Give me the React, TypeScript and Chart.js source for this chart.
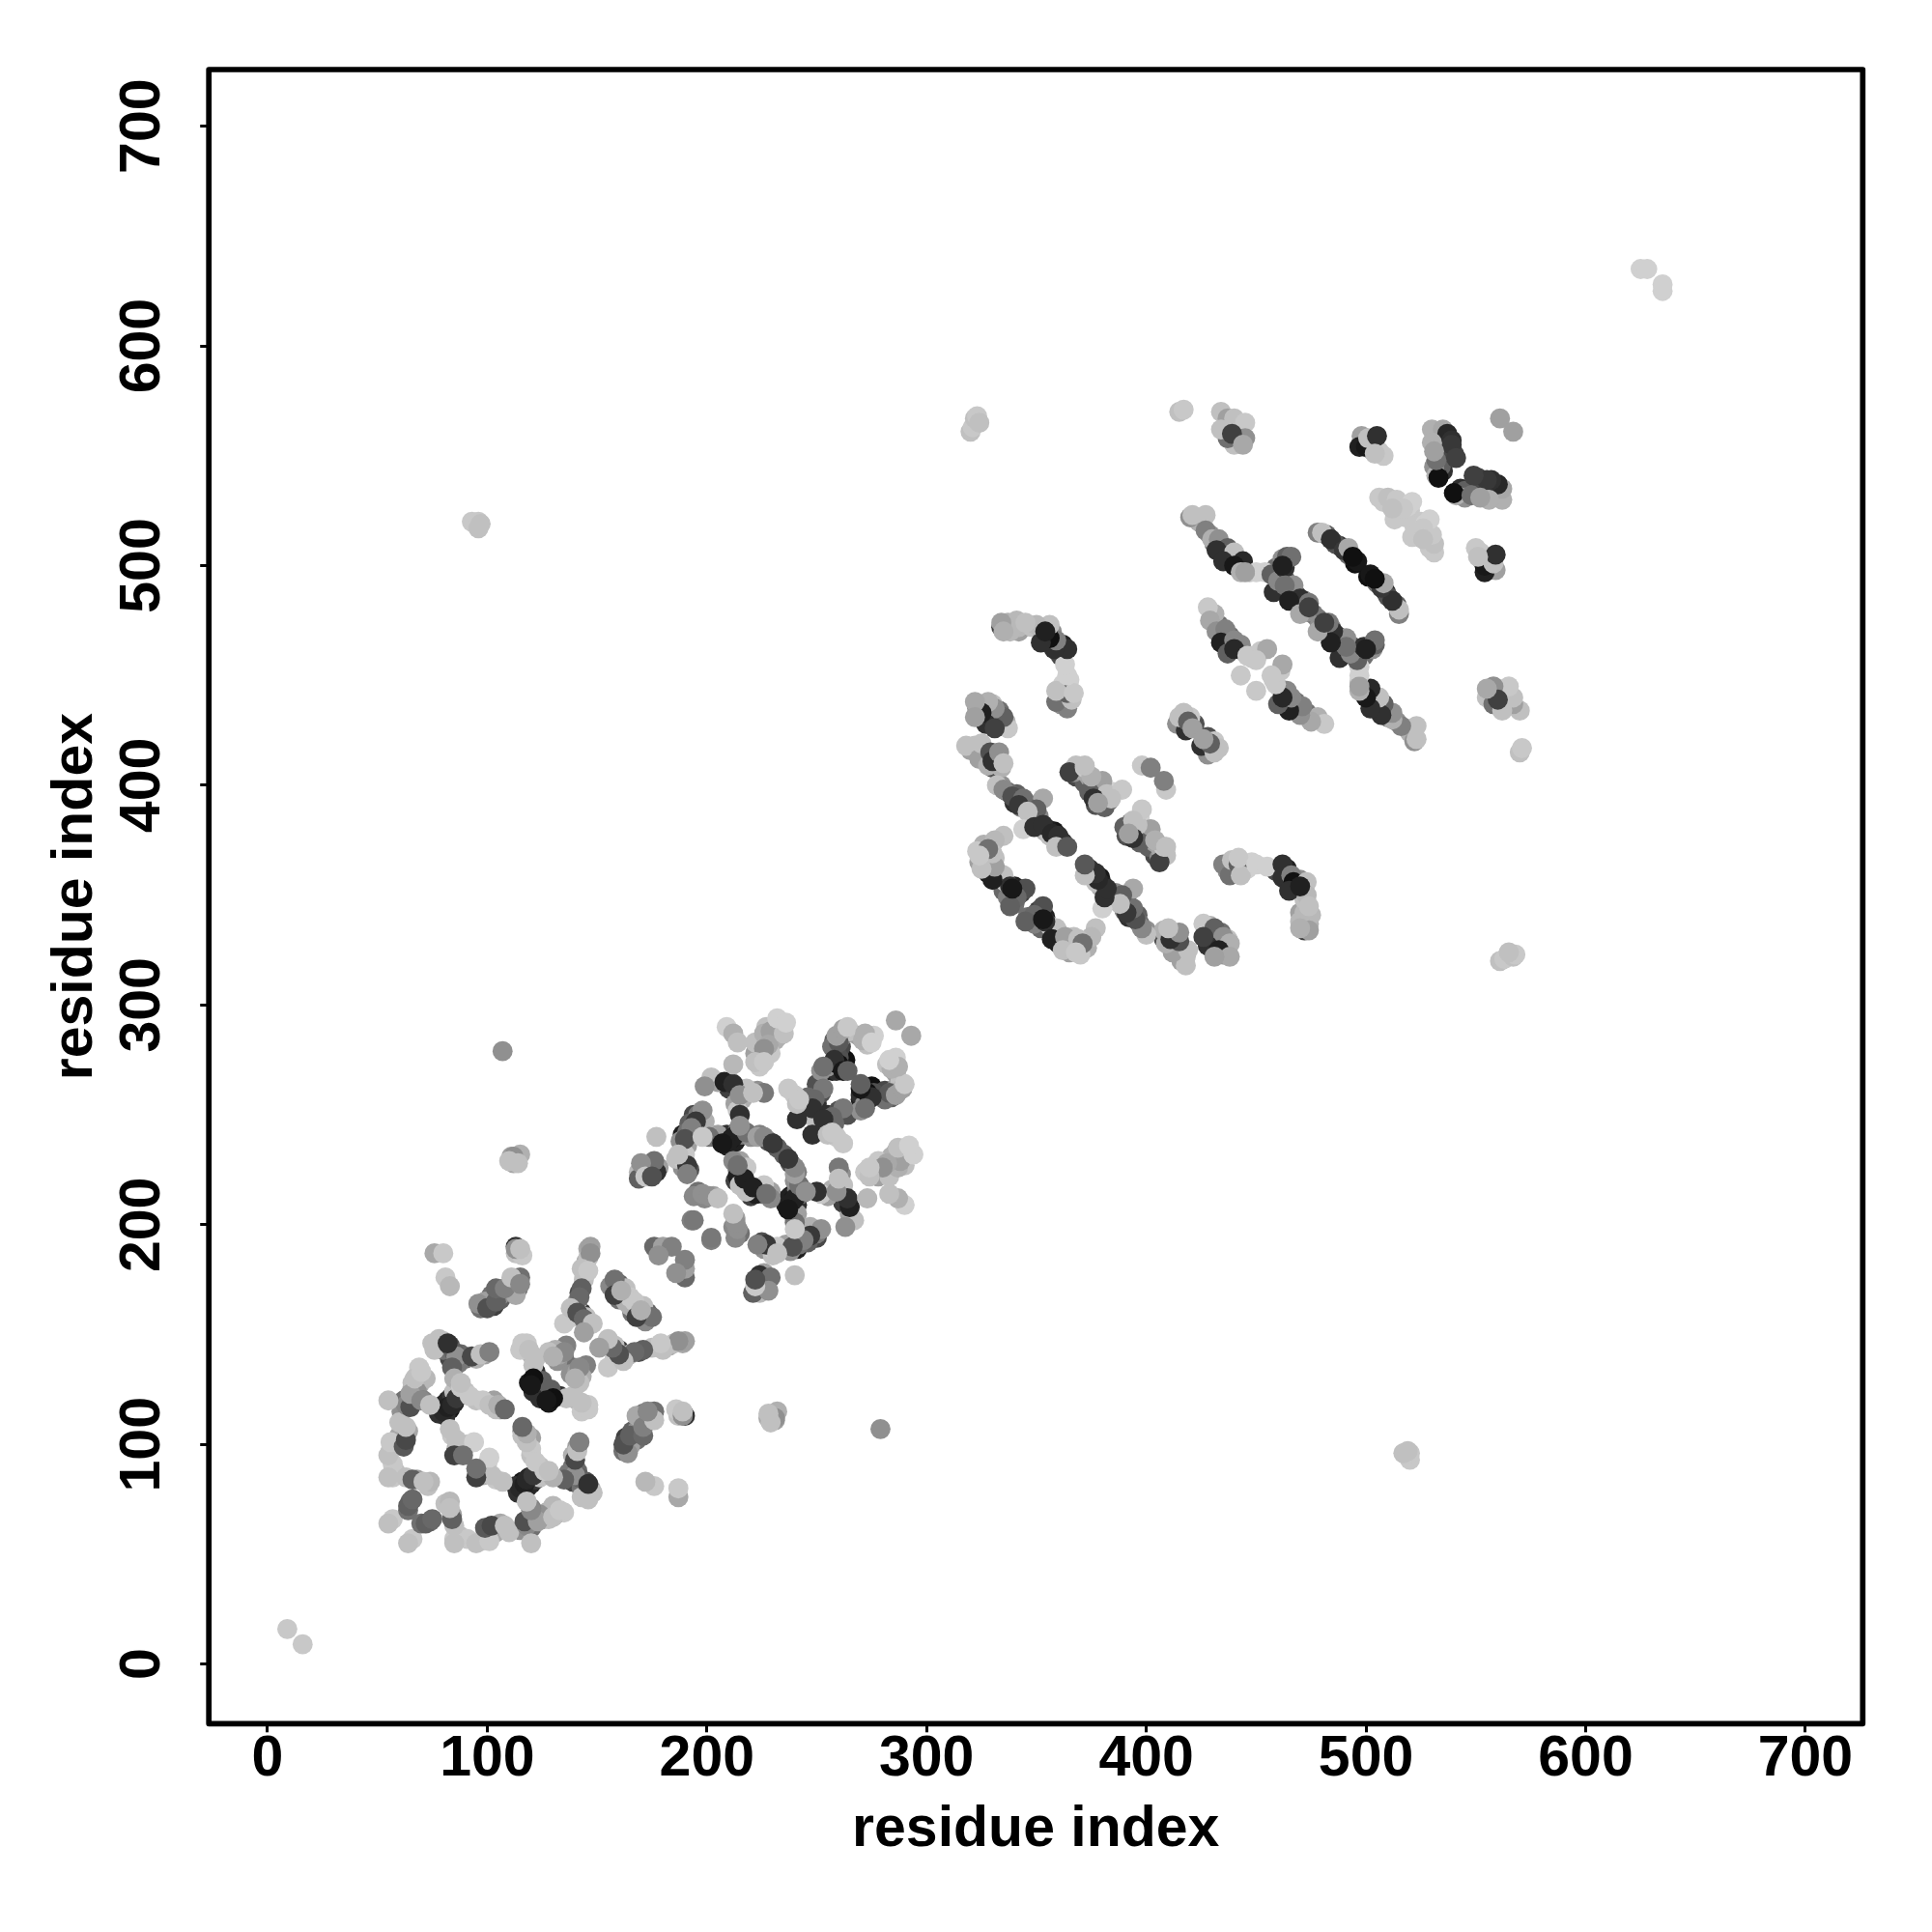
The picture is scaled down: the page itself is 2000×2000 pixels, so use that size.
import React, { useEffect, useRef } from "react";
import { Chart, registerables } from "chart.js";

Chart.register(...registerables);

// [residue i, residue j, grey level] – the map is symmetric, only j > i is listed
const domainOneContacts: number[][] = [
  [76,187,0xa8],[80,187,0xc8],[81,176,0xc8],[83,172,0xb8],[55,64,0xc0],[65,74,0x6e],[64,70,0x70],[64,72,0x60],[66,75,0x68],
  [55,85,0xc0],[55,95,0xc0],[56,101,0xc8],[62,99,0x58],[63,102,0x48],[63,108,0xc0],[63,118,0x88],[65,117,0x50],[55,120,0xc0],
  [68,124,0x90],[71,120,0x80],[65,123,0xa0],[67,130,0xc0],[70,133,0xc8],[75,146,0xc0],[78,148,0xc0],[83,145,0x50],[85,142,0x60],
  [86,140,0x90],[93,140,0x48],[97,141,0xc0],[101,142,0x80],[84,135,0x60],[85,130,0xb0],[78,114,0x30],[80,115,0x28],[82,117,0x20],
  [84,118,0x28],[86,121,0x38],[88,126,0xc8],[92,122,0xc8],[101,118,0xc0],[105,118,0xb0],[108,116,0x68],[83,107,0xc0],[86,102,0xc0],
  [94,101,0xd0],[85,95,0x40],[89,95,0x70],[63,85,0xc0],[66,84,0x60],[74,83,0xb8],[71,83,0xc0],[70,120,0x88],[74,118,0xc0],
  [88,128,0xc0],[82,146,0x30],[96,164,0x90],[100,162,0x50],[104,165,0x60],[104,171,0x68],[108,171,0x80],[115,176,0x70],[111,176,0xc0],
  [115,173,0x88],[113,190,0x30],[113,189,0x90],[115,189,0xc0],[147,190,0xa0],[147,187,0x90],[143,180,0xc0],[146,179,0xc8],[143,171,0x60],
  [142,167,0x68],[135,155,0xc8],[138,162,0xc0],[141,160,0x50],[144,157,0x68],[148,155,0xc0],[144,151,0xa0],[158,175,0x70],[158,168,0x40],
  [161,170,0xb0],[176,190,0x68],[180,190,0xa0],[184,190,0x80],[178,186,0x90],[116,146,0xc8],[119,143,0xc0],[122,139,0xc0],[121,130,0x10],
  [120,127,0x18],[135,142,0x88],[130,140,0xb0],[193,202,0x80],
];

const domainOneHidden: number[][] = [
  [60,104,0xa8],[61,101,0x70],[62,105,0x30],[60,110,0xc0],[64,106,0xa8],[61,115,0x90],[62,120,0x70],[66,120,0xa0],[67,122,0x30],
  [66,126,0xc0],[69,127,0xb0],[68,131,0x90],[66,128,0xc0],[69,135,0xc8],[72,130,0xb8],[76,143,0xc0],[80,147,0xb8],[80,143,0x70],
  [82,142,0x38],[84,140,0x30],[81,144,0x50],[83,139,0x48],[88,141,0x68],[90,139,0x70],[95,139,0xb0],[99,141,0xa0],[87,137,0x78],
  [81,113,0x30],[79,116,0x20],[83,116,0x18],[85,119,0x20],[82,120,0x28],[80,118,0x18],[84,122,0x38],[85,124,0xc0],[90,124,0xc0],
  [95,120,0xc0],[98,120,0xc8],[103,120,0xa0],[106,116,0x88],[104,116,0xc0],[84,104,0xc8],[88,100,0xc0],[87,97,0x60],[91,100,0xc8],
  [86,98,0xb0],[97,162,0x70],[99,165,0xa0],[101,164,0x40],[103,163,0x40],[106,168,0x90],[110,170,0x90],[112,174,0xc0],[114,171,0x70],
  [113,168,0xa8],[102,168,0x70],[106,166,0x60],[144,175,0xc0],[142,169,0x50],[145,183,0xb0],[146,185,0xc0],[141,165,0xb0],[139,158,0xc8],
  [143,160,0x38],[146,154,0xc8],[145,158,0xc0],[160,173,0x60],[163,171,0xc0],[156,172,0x88],[160,166,0x70],[165,167,0xc8],[163,165,0xb0],
  [115,143,0xc8],[118,146,0xc8],[120,141,0xb8],[121,136,0xc0],[122,133,0x30],[119,128,0x18],[122,128,0x10],[121,124,0x30],[125,129,0x60],
  [131,143,0xb0],[133,141,0xa0],[136,145,0x80],[132,138,0x90],[128,142,0xc0],[135,139,0x70],[57,66,0xc8],[57,85,0xc8],[58,88,0xc0],
  [56,97,0xc8],[57,91,0xc8],[68,84,0xa0],[73,81,0xc0],[146,189,0xa8],[113,187,0xc0],[116,186,0xc8],
];

const domainTwoContacts: number[][] = [
  [209,290,0xd0],[212,287,0xb0],[214,283,0xc0],[222,278,0xa0],[222,283,0xc0],[226,287,0xb0],[229,288,0xa0],[228,282,0xa8],[226,280,0x90],
  [222,274,0xc0],[226,274,0xc8],[235,287,0xc0],[232,294,0xd0],[236,292,0xd0],[260,283,0x58],[259,286,0xa0],[262,289,0xa0],[264,290,0xc8],
  [271,284,0xb0],[272,287,0xb0],[275,283,0xd0],[286,293,0xa8],[260,273,0x10],[258,275,0x30],[262,270,0x18],[264,270,0x60],[252,270,0x90],
  [253,272,0x70],[253,262,0x78],[249,257,0x68],[248,253,0x30],[241,248,0x30],[241,255,0xc0],[242,257,0xc8],[237,262,0xc8],[202,267,0xc0],
  [199,263,0x90],[208,265,0x20],[212,264,0x30],[215,259,0x90],[215,250,0x30],[226,260,0x78],[221,260,0xc0],[212,273,0xb8],[198,252,0x90],
  [195,247,0x38],[193,244,0x80],[190,239,0x50],[201,240,0x70],[198,240,0xc8],[177,240,0xc0],[211,239,0x18],[212,240,0x20],[209,236,0x20],
  [207,237,0x18],[218,242,0x70],[223,240,0xa0],[226,240,0x88],[230,237,0x38],[215,245,0x90],[189,230,0xc8],[191,227,0x38],[191,223,0x80],
  [187,232,0xc0],[177,224,0x30],[173,227,0x68],[169,224,0xb8],[169,221,0x60],[176,229,0x70],[170,228,0x90],[172,222,0xc8],[175,222,0x50],
  [212,229,0x88],[216,224,0xc8],[214,222,0x20],[215,218,0xc0],[217,221,0x20],[214,227,0x70],[194,213,0x88],[198,214,0x90],[201,213,0x90],
  [205,212,0xc0],[194,202,0x78],
];

const domainTwoHidden: number[][] = [
  [208,238,0x28],[210,237,0x10],[212,237,0x20],[209,241,0x30],[213,238,0x18],[214,243,0x68],[216,241,0x78],[220,240,0x90],[224,241,0x80],
  [228,238,0x50],[232,235,0x60],[196,250,0x78],[194,250,0x48],[192,246,0x60],[191,242,0x70],[188,238,0x90],[189,241,0x20],[191,236,0xa0],
  [203,240,0x90],[205,241,0xa0],[197,245,0x70],[199,247,0xb0],[205,265,0xa0],[210,262,0x40],[214,262,0x50],[216,257,0xb0],[213,255,0xa0],
  [214,252,0xc8],[218,262,0xc0],[223,261,0x90],[255,272,0x90],[257,270,0x20],[259,270,0x30],[261,272,0x18],[263,275,0x10],[260,276,0x50],
  [250,264,0x50],[252,260,0x50],[247,255,0x40],[250,255,0x30],[244,250,0xc0],[246,258,0x68],[240,259,0xc8],[224,278,0x70],[227,284,0xa0],
  [231,289,0xc0],[231,284,0xb0],[233,286,0xa0],[225,283,0xa8],[224,272,0xc8],[229,278,0xc8],[233,291,0xc8],[227,290,0xc0],[258,284,0x60],
  [261,281,0x48],[262,286,0x90],[257,281,0x70],[265,288,0xc0],[273,282,0xc0],[276,286,0xd0],[269,286,0xa0],[176,226,0x50],[172,225,0xb0],
  [170,223,0x50],[174,224,0x20],[178,226,0xa0],[186,230,0xc0],[190,232,0xc8],[192,225,0x50],[189,226,0x90],[214,225,0x70],[215,229,0xa0],
  [218,226,0xc8],[213,220,0x40],[218,219,0xa0],[196,215,0x70],[199,212,0x88],[203,213,0xa0],
];

const domainThreeContacts: number[][] = [
  [318,418,0xc0],[324,412,0xa0],[325,419,0xc0],[328,409,0xb0],[329,415,0x50],[330,411,0x30],[333,415,0x90],[335,410,0xc0],[332,400,0xc0],
  [335,398,0x88],[339,395,0x50],[344,394,0x70],[342,391,0x38],[353,394,0xa8],[350,389,0x60],[346,388,0xc0],[344,380,0xd0],[349,381,0x30],
  [353,382,0x30],[357,378,0x28],[360,377,0x30],[359,372,0xc0],[364,372,0x58],[335,377,0xc0],[331,375,0xb8],[327,370,0x70],[323,370,0xc8],
  [324,365,0xa0],[328,360,0x20],[330,364,0xa8],[335,359,0xc0],[338,354,0x30],[345,353,0x50],[341,349,0x68],[338,345,0x60],[339,353,0x18],
  [330,357,0x20],[331,363,0xa0],[330,369,0xc0],[328,371,0x70],[325,362,0xc0],[324,368,0xc8],[368,409,0xc0],[365,406,0x40],[372,408,0xc8],
  [376,401,0x50],[380,402,0xa0],[374,397,0x60],[382,396,0xc0],[389,398,0xc8],[381,390,0x60],[376,394,0x30],[398,409,0xc8],[402,408,0x80],
  [384,394,0xc0],[378,392,0xa0],[375,404,0xb0],[372,409,0xc0],[364,435,0x80],[359,438,0x70],[366,439,0xc0],[364,442,0x60],[359,443,0xc0],
  [367,442,0xc8],[364,450,0xd0],[363,455,0xd0],[364,462,0x30],[358,462,0x30],[359,466,0x80],[356,467,0x10],[356,473,0xc0],[352,465,0x30],
  [350,473,0xb8],[341,475,0xb8],[338,470,0xb8],[334,474,0xa0],[335,470,0xb0],[345,474,0xc0],[354,470,0x20],[337,426,0xc8],[335,431,0x60],
  [331,435,0x90],[328,438,0xb0],[327,428,0x30],[325,433,0x20],[322,438,0xa8],[322,431,0xa0],[331,426,0x40],[414,428,0x90],[418,425,0x30],
  [415,431,0xc0],[417,433,0xc0],[419,429,0x60],[421,426,0xa0],[415,570,0xc0],[417,571,0xc8],[434,570,0xc0],[437,567,0xa0],[440,567,0xc0],
  [445,565,0xc8],[445,558,0x90],[440,555,0xc0],[437,558,0x70],[434,562,0xc0],[439,560,0x40],[444,555,0xa8],[498,559,0xa0],[497,554,0x20],
  [500,554,0x18],[501,558,0xc0],[505,559,0x30],[508,550,0xc8],[504,551,0xc0],[530,562,0xb0],[535,562,0xa8],[537,560,0x28],[539,557,0x30],
  [539,555,0x38],[541,549,0x40],[532,541,0xb0],[533,540,0x10],[530,556,0xb0],[532,548,0x70],[531,552,0xa0],[561,567,0xa0],[506,531,0xc8],
  [510,531,0xc0],[514,530,0xc8],[521,529,0xd0],[513,521,0xc8],[517,526,0xc8],[512,526,0xc0],[420,522,0x90],[421,523,0xc0],[427,523,0xc0],
  [427,516,0x80],[430,512,0xb0],[433,512,0x90],[437,508,0x60],[432,507,0x30],[440,506,0xc0],[435,502,0x30],[444,502,0x28],[440,500,0x18],
  [443,497,0xb0],[450,497,0xd0],[445,497,0xa0],[454,497,0xd0],[478,515,0x80],[480,515,0xc0],[484,512,0x30],[490,507,0x38],[492,508,0xa8],
  [494,504,0x10],[457,496,0x60],[458,488,0x30],[460,493,0x88],[463,499,0x30],[462,503,0x90],[464,504,0x60],[467,491,0x90],[463,491,0x70],
  [470,485,0x30],[474,483,0x78],[465,484,0x20],[470,478,0xa8],[474,481,0x40],[466,504,0x70],[462,500,0x20],[428,481,0xc8],[429,475,0xa8],
  [432,470,0x90],[436,471,0x80],[434,465,0x20],[440,466,0x88],[443,464,0x88],[437,460,0x60],[440,462,0x28],[446,459,0xc8],[455,462,0xa8],
  [443,450,0xc8],[450,457,0xc8],
];

const domainThreeHidden: number[][] = [
  [482,514,0x60],[486,510,0x50],[488,509,0x30],[492,505,0x70],[496,502,0x18],[495,501,0x10],[459,499,0x70],[461,497,0x40],[463,494,0x60],
  [466,489,0x78],[468,487,0x50],[472,484,0x88],[471,481,0x30],[473,479,0x90],[476,478,0x78],[424,520,0xb0],[429,514,0x90],[431,510,0x70],
  [434,506,0xa0],[436,504,0x28],[438,503,0x60],[442,499,0xa8],[447,497,0xc0],[441,503,0x20],[431,478,0xb0],[433,473,0x70],[435,468,0x60],
  [438,468,0x70],[441,464,0x90],[444,461,0xc0],[448,458,0xc8],[452,461,0xc8],[437,463,0x30],[434,468,0x30],[436,562,0x50],[442,563,0xc0],
  [440,558,0x90],[443,560,0xa8],[438,565,0xb0],[499,556,0x40],[502,553,0xa0],[506,552,0xc8],[503,557,0x90],[533,559,0xa8],[536,555,0x28],
  [538,552,0x38],[540,551,0x48],[534,545,0x60],[531,545,0x90],[535,543,0x30],[508,529,0xc8],[516,528,0xc8],[519,527,0xd0],[515,523,0xc8],
  [511,528,0xc8],[520,525,0xc8],[518,522,0xc8],[320,416,0xa0],[322,418,0xc0],[327,413,0x70],[326,416,0x40],[331,412,0x60],[334,408,0xb0],
  [330,408,0x50],[334,400,0x90],[337,397,0x70],[341,396,0x60],[340,392,0x30],[343,390,0x80],[347,391,0x68],[351,386,0x88],[348,385,0x40],
  [351,382,0x20],[355,380,0x20],[358,379,0x18],[362,374,0x28],[361,375,0x38],[356,377,0xc0],[354,379,0xb0],[326,368,0xa0],[329,362,0x60],
  [331,367,0xc0],[333,360,0xa0],[336,356,0xc8],[340,354,0x20],[343,351,0x40],[337,349,0x80],[340,346,0x70],[335,352,0x68],[326,373,0xb0],
  [330,361,0x18],[328,364,0x70],[325,367,0xa8],[367,406,0x90],[370,407,0xa8],[368,404,0x48],[374,404,0xa0],[372,401,0x60],[377,398,0x40],
  [379,398,0xb0],[385,397,0xd0],[383,393,0x70],[380,393,0xa0],[377,391,0x50],[361,437,0x90],[363,440,0xc0],[362,446,0xd0],[365,448,0xd0],
  [361,459,0x48],[362,464,0x20],[357,464,0x50],[355,465,0x80],[353,469,0xc0],[357,470,0x90],[354,472,0xb8],[339,473,0xc0],[336,472,0x90],
  [342,472,0xb8],[348,472,0xc0],[337,474,0xb0],[334,472,0x40],[342,470,0xa0],[323,435,0x90],[326,431,0x60],[329,433,0x38],[328,429,0xa0],
  [330,437,0xc0],[334,428,0x90],[333,434,0x70],[325,437,0xc0],[327,434,0x18],[336,429,0xb0],[416,430,0x70],[420,431,0xc8],[417,427,0xa0],
  [422,428,0x50],
];

const longRangeContacts: number[][] = [
  [9,16,0xc8],[93,520,0xc8],[96,520,0xc8],[97,519,0xc0],[96,517,0xc0],[107,279,0x90],[112,228,0xa8],[111,231,0xa0],[113,230,0xc0],
  [115,232,0xb0],[112,231,0x90],[110,229,0xc0],[114,228,0xc0],[320,561,0xc0],[321,563,0xc8],[322,567,0xc0],[323,568,0xc8],[324,565,0xc0],
  [625,635,0xd0],[628,635,0xd0],
];

const tickValues = [0, 100, 200, 300, 400, 500, 600, 700];
const axisLabel = "residue index";

const withMirror = (rows: number[][]) => rows.flatMap(([i, j, g]) => [[i, j, g], [j, i, g]]);

// partly covered contacts go underneath, the fully visible ones on top
const allContacts = [
  ...withMirror([...domainOneHidden, ...domainTwoHidden, ...domainThreeHidden]).sort((a, b) => a[2] - b[2]),
  ...withMirror([...domainOneContacts, ...domainTwoContacts, ...domainThreeContacts, ...longRangeContacts]),
];

const tickFont = { family: "'Liberation Sans', Arial, sans-serif", size: 59, weight: "bold" as const };

const framePlugin = {
  id: "frame",
  afterDatasetsDraw(chart: any) {
    const { ctx, chartArea: a } = chart;
    ctx.save();
    ctx.lineWidth = 5.7;
    ctx.lineJoin = "round";
    ctx.strokeStyle = "#000";
    ctx.strokeRect(a.left, a.top, a.right - a.left, a.bottom - a.top);
    ctx.restore();
  },
};

export default function App() {
  const ref = useRef<HTMLCanvasElement>(null);
  useEffect(() => {
    document.body.style.margin = "0";
    const chart = new Chart(ref.current!, {
      type: "scatter",
      data: {
        datasets: [
          {
            data: allContacts.map(([x, y]) => ({ x, y })),
            backgroundColor: allContacts.map(([, , g]) => `rgb(${g},${g},${g})`),
            borderWidth: 0,
            pointRadius: 10.4,
            pointHoverRadius: 10.4,
          },
        ],
      },
      options: {
        responsive: false,
        animation: false,
        events: [],
        layout: { padding: { left: 43, right: 71.7, top: 72, bottom: 70 } },
        plugins: { legend: { display: false }, tooltip: { enabled: false } },
        scales: {
          x: {
            type: "linear",
            min: -26.7,
            max: 726.1,
            afterFit: (s: any) => { s.height = 145.7; },
            afterBuildTicks: (s: any) => { s.ticks = tickValues.map((value) => ({ value })); },
            grid: { drawOnChartArea: false, drawTicks: true, tickLength: 9, tickColor: "#000", tickWidth: 3 },
            border: { display: false },
            ticks: { color: "#000", font: tickFont, padding: -7, maxRotation: 0, autoSkip: false, includeBounds: false },
            title: { display: true, text: axisLabel, color: "#000", font: tickFont, padding: { top: 0, bottom: 0 } },
          },
          y: {
            type: "linear",
            min: -27.1,
            max: 725.8,
            afterFit: (s: any) => { s.width = 173.2; },
            afterBuildTicks: (s: any) => { s.ticks = tickValues.map((value) => ({ value })); },
            grid: { drawOnChartArea: false, drawTicks: true, tickLength: 9, tickColor: "#000", tickWidth: 3 },
            border: { display: false },
            ticks: { color: "#000", font: tickFont, padding: 9, minRotation: 90, maxRotation: 90, autoSkip: false, includeBounds: false, crossAlign: "center" },
            title: { display: true, text: axisLabel, color: "#000", font: tickFont, padding: { top: 0, bottom: 0 } },
          },
        },
      },
      plugins: [framePlugin],
    } as any);
    return () => chart.destroy();
  }, []);
  return <canvas ref={ref} width={2000} height={2000} style={{ display: "block" }} />;
}
